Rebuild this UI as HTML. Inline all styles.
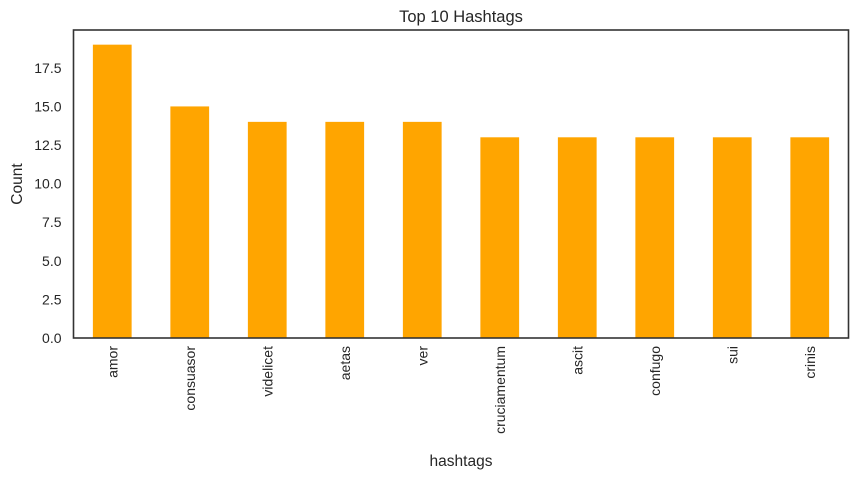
<!DOCTYPE html>
<html><head><meta charset="utf-8"><style>
body{margin:0;background:#fff;font-family:"Liberation Sans","DejaVu Sans",sans-serif;}
svg text{fill:#262626;font-family:"Liberation Sans","DejaVu Sans",sans-serif;}
</style></head><body>
<svg id="chart" width="858" height="477" xmlns="http://www.w3.org/2000/svg">
<text x="461" y="22" font-size="16.5" text-anchor="middle">Top 10 Hashtags</text>
<g id="bars"></g><g id="ticks"></g>
<rect x="73.5" y="30" width="775" height="308" fill="none" stroke="#333" stroke-width="1.6"/>
<text x="0" y="0" font-size="15.5" text-anchor="middle" transform="translate(22,184) rotate(-90)">Count</text>
<text x="461" y="466" font-size="15.5" text-anchor="middle">hashtags</text>
</svg>
<script>
const categories=["amor","consuasor","videlicet","aetas","ver","cruciamentum","ascit","confugo","sui","crinis"];
const counts=[19,15,14,14,14,13,13,13,13,13];
const yTicks=[0,2.5,5,7.5,10,12.5,15,17.5];
const L=73.5,R=848.5,T=30,B=338,YMAX=19.95;
const xS=i=>L+(i+0.5)*(R-L)/categories.length;
const yS=v=>B-v*(B-T)/YMAX;
const NS="http://www.w3.org/2000/svg";
const bars=document.getElementById('bars'),ticks=document.getElementById('ticks');
const bw=(R-L)/categories.length*0.5;
categories.forEach((c,i)=>{
 const r=document.createElementNS(NS,'rect');
 
 
 r.setAttribute('x',xS(i)-bw/2);r.setAttribute('y',yS(counts[i]));
 r.setAttribute('width',bw);r.setAttribute('height',B-yS(counts[i]));
 r.setAttribute('fill','#ffa500');bars.appendChild(r);
 const t=document.createElementNS(NS,'text');
 
 
 t.setAttribute('font-size','14');t.setAttribute('text-anchor','end');
 t.setAttribute('transform','translate('+(xS(i)+5)+','+(B+8)+') rotate(-90)');
 t.textContent=c;ticks.appendChild(t);
});
yTicks.forEach(v=>{
 const t=document.createElementNS(NS,'text');
 
 
 t.setAttribute('font-size','14');t.setAttribute('text-anchor','end');
 t.setAttribute('x',L-12);t.setAttribute('y',yS(v)+5);
 t.textContent=v.toFixed(1);ticks.appendChild(t);
});
</script>
</body></html>
